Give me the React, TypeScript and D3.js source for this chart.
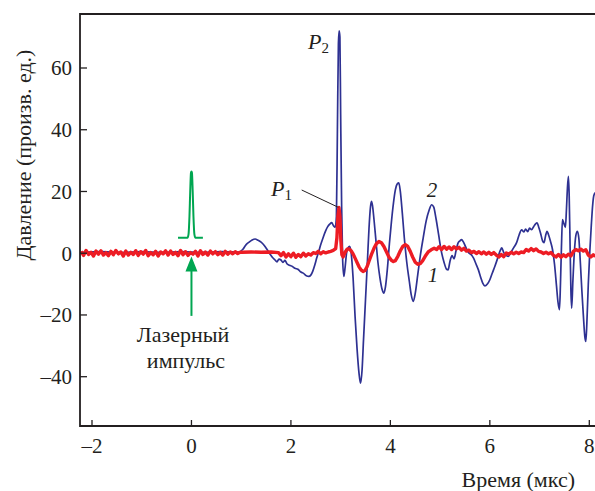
import React from "react";
import * as d3 from "d3";

type Pt = [number, number];

const xTicks = [-2, 0, 2, 4, 6, 8];
const yTicks = [-40, -20, 0, 20, 40, 60];

// curve 2 (blue): time (µs), pressure
const blueSeries: Pt[] = [
  [-2.22, 0.3], [-1.8, 0.5], [-1.4, 0.2], [-1.0, 0.5], [-0.6, 0.3], [-0.2, 0.5], [0.2, 0.3], [0.6, 0.5], [0.95, 0.4],
  [1.03, 1.2], [1.1, 2.8], [1.16, 3.6], [1.22, 4.3], [1.28, 4.6], [1.34, 4.2], [1.4, 3.6], [1.46, 2.6], [1.52, 1.2],
  [1.58, -0.3], [1.63, -1.4], [1.68, -2.2], [1.72, -2.8], [1.76, -1.9], [1.8, -2.2], [1.84, -3.0], [1.88, -2.3],
  [1.92, -3.4], [1.97, -3.9], [2.03, -4.3], [2.08, -4.9], [2.14, -5.2], [2.2, -6.1], [2.26, -6.6], [2.31, -7.3],
  [2.36, -7.5], [2.4, -7.1], [2.44, -5.8], [2.48, -3.8], [2.52, -1.5], [2.56, 0.6], [2.6, 2.8], [2.65, 5.2],
  [2.7, 7.3], [2.74, 8.6], [2.78, 9.4], [2.82, 9.9], [2.86, 8.8], [2.89, 8.4], [2.915, 12], [2.935, 40],
  [2.955, 68], [2.97, 72], [2.985, 70], [3.0, 45], [3.02, 15], [3.04, -2], [3.065, -7.5], [3.09, -4.5],
  [3.12, 0.2], [3.15, 1.8], [3.18, 2.2], [3.21, 0.3], [3.25, -8], [3.29, -20.5], [3.33, -31], [3.37, -39],
  [3.40, -42.1], [3.43, -38], [3.46, -28], [3.5, -15], [3.54, -2], [3.57, 8], [3.6, 15], [3.62, 16.8],
  [3.64, 15.5], [3.67, 11], [3.71, 4], [3.75, -3], [3.79, -8], [3.83, -11.5], [3.87, -12.9], [3.9, -11],
  [3.94, -5], [3.98, 3], [4.02, 10], [4.06, 16], [4.1, 20.5], [4.14, 22.5], [4.17, 22.8], [4.2, 20],
  [4.24, 13], [4.28, 5], [4.33, -3], [4.38, -9], [4.42, -13.5], [4.46, -15.6], [4.5, -13], [4.55, -7],
  [4.6, -1], [4.66, 5], [4.72, 10.5], [4.78, 14], [4.83, 15.7], [4.87, 15], [4.92, 11], [4.97, 6],
  [5.02, 1], [5.08, -3], [5.13, -5.2], [5.16, -5.4], [5.2, -2.5], [5.24, -0.8], [5.28, -1.8], [5.32, 0.8],
  [5.36, 3.3], [5.4, 4.0], [5.43, 4.4], [5.47, 3.6], [5.52, 1.8], [5.57, 0.2], [5.62, -0.4], [5.67, -1.5],
  [5.72, -3.4], [5.77, -5.4], [5.82, -8.0], [5.86, -9.8], [5.9, -10.6], [5.95, -10.0], [6.0, -8.6],
  [6.05, -6.4], [6.1, -4.3], [6.16, -1.5], [6.21, 0.9], [6.24, 1.7], [6.28, 0.2], [6.32, -0.6], [6.37, -1.0],
  [6.42, 0.2], [6.48, 1.8], [6.54, 3.5], [6.59, 6.0], [6.64, 7.6], [6.68, 6.9], [6.72, 7.8], [6.76, 7.0],
  [6.8, 8.1], [6.84, 7.6], [6.88, 8.6], [6.92, 9.5], [6.95, 9.8], [6.98, 8.6], [7.02, 6.5], [7.06, 4.0],
  [7.09, 3.4], [7.12, 5.6], [7.15, 7.1], [7.18, 6.0], [7.22, 3.8], [7.26, 1.2], [7.3, -3.5], [7.34, -10.5],
  [7.37, -15.8], [7.40, -18.3], [7.42, -10], [7.44, 2], [7.46, 10.9], [7.49, 9.6], [7.52, 8.4], [7.54, 14],
  [7.56, 21], [7.58, 24.9], [7.595, 19], [7.61, 6], [7.63, -12], [7.645, -17.8], [7.67, -9], [7.7, 0.5],
  [7.73, 5.8], [7.76, 7.1], [7.79, 4.8], [7.82, -3], [7.85, -12], [7.88, -20], [7.91, -27], [7.93, -28.6],
  [7.95, -23], [7.98, -10], [8.01, 0.5], [8.04, 9], [8.07, 16], [8.09, 18.6], [8.12, 19.6],
];

// curve 1 (red): noisy baseline before the signal, one sample every 0.05 µs
const redBaseStart = -2.22;
const redBaseStep = 0.05;
const redBaseNoise = [
  0.6, -0.7, 0.9, -0.4, 0.3, -0.9, 0.7, -0.3, 0.8, -0.6,
  0.2, -0.8, 0.6, -0.5, 0.9, -0.2, 0.4, -0.9, 0.7, -0.6,
  0.3, -0.4, 0.8, -0.7, 0.5, -0.3, 0.9, -0.8, 0.2, -0.5,
  0.6, -0.9, 0.4, -0.2, 0.8, -0.6, 0.7, -0.4, 0.3, -0.8,
  0.9, -0.5, 0.5, -0.7, 0.2, -0.3, 0.6, -0.9, 0.8, -0.4,
  0.4, -0.6, 0.7, -0.2, 0.5, -0.5, 0.3, -0.6, 0.6, -0.3,
  0.4, -0.2, 0.5, -0.1, 0.3,
];
const redSeries: Pt[] = [
  [1.02, 0.3], [1.2, 0.4], [1.4, 0.3], [1.6, 0.4], [1.75, 0.2], [1.8, -0.8], [1.85, 0.2], [1.9, -1.2],
  [1.95, -0.2], [2.0, -1.1], [2.05, 0.0], [2.1, -1.3], [2.15, -0.4], [2.2, -1.1], [2.25, 0.0], [2.3, -0.9],
  [2.35, -0.2], [2.4, -0.6], [2.45, 0.2], [2.5, -0.1], [2.55, 0.6], [2.6, -0.2], [2.65, 0.5], [2.7, 0.1],
  [2.75, 0.4], [2.8, 0.6], [2.85, 0.9], [2.9, 1.5], [2.925, 5], [2.945, 12], [2.965, 14.8], [2.985, 12],
  [3.005, 4], [3.025, -0.5], [3.05, -1.2], [3.09, 0.3], [3.13, 1.3], [3.17, 1.4], [3.21, 0.8], [3.25, -0.2],
  [3.29, -1.6], [3.33, -3.0], [3.37, -4.4], [3.41, -5.4], [3.45, -5.9], [3.49, -5.6], [3.53, -4.4],
  [3.57, -2.6], [3.62, -0.4], [3.67, 1.6], [3.72, 3.1], [3.77, 3.8], [3.82, 3.4], [3.87, 2.2], [3.92, 0.5],
  [3.97, -1.2], [4.02, -2.3], [4.06, -2.7], [4.1, -2.4], [4.15, -1.0], [4.2, 0.8], [4.25, 2.2], [4.3, 2.8],
  [4.35, 2.2], [4.4, 0.6], [4.45, -1.3], [4.5, -2.9], [4.55, -3.6], [4.6, -3.4], [4.65, -2.4], [4.7, -1.0],
  [4.76, 0.4], [4.82, 1.1], [4.88, 1.6], [4.93, 1.2], [4.98, 2.1],
  [5.03, 1.2], [5.08, 2.2], [5.13, 1.3], [5.18, 2.0], [5.23, 1.2], [5.28, 2.1], [5.33, 1.4], [5.38, 1.9],
  [5.43, 1.0], [5.48, 1.6], [5.53, 0.7], [5.58, 1.0], [5.63, 0.2], [5.68, 0.6], [5.73, -0.1], [5.78, 0.5],
  [5.83, -0.2], [5.88, 0.4], [5.93, -0.3], [5.98, 0.3], [6.03, -0.4], [6.08, 0.2], [6.13, -0.6], [6.18, -1.2],
  [6.23, -0.4], [6.28, -1.1], [6.33, 0.1], [6.38, -0.3], [6.43, 0.3], [6.48, -0.2], [6.53, 0.3], [6.58, -0.1],
  [6.63, 0.4], [6.68, 0.2], [6.73, 1.2], [6.78, 0.7], [6.83, 1.5], [6.88, 0.8], [6.93, 1.4], [6.98, 0.6],
  [7.03, 0.4], [7.08, -0.1], [7.13, 0.3], [7.18, -0.2], [7.23, 0.2], [7.28, -0.7], [7.33, -1.2], [7.38, -0.4],
  [7.43, -1.3], [7.48, -0.5], [7.53, -1.1], [7.58, -0.3], [7.63, -0.9], [7.68, 0.6], [7.73, 1.2], [7.78, 0.8],
  [7.83, 1.3], [7.88, 0.7], [7.93, 1.1], [7.98, -0.6], [8.03, -1.2], [8.08, -0.5], [8.12, -1.0],
];

// laser pulse sketch (green)
const laserPulse: Pt[] = [
  [-0.27, 5], [-0.08, 5], [-0.06, 6], [-0.04, 12], [-0.025, 20], [-0.01, 26], [0, 26.5],
  [0.01, 26], [0.025, 20], [0.04, 12], [0.06, 6], [0.08, 5], [0.23, 5],
];
const arrowTail = -20.3;
const arrowTip = -1.1;

const ink = "#231f20";
const blue = "#2e3192";
const red = "#ed1c24";
const green = "#00a651";
const font = "'Liberation Serif', 'Times New Roman', serif";

export default function App() {
  const width = 595;
  const height = 491;
  const left = 80;
  const top = 14;
  const bottom = 426;

  const x = d3.scaleLinear().domain([-2, 8]).range([92, 589.3]);
  const y = d3.scaleLinear().domain([-40, 60]).range([376.7, 68]);
  const line = d3.line<Pt>().x((d) => x(d[0])).y((d) => y(d[1]));
  const smooth = d3.line<Pt>().x((d) => x(d[0])).y((d) => y(d[1])).curve(d3.curveMonotoneX);

  const redAll: Pt[] = [
    ...redBaseNoise.map((v, i) => [redBaseStart + i * redBaseStep, v] as Pt),
    ...redSeries,
  ];

  const ax = x(0);
  const tipY = y(arrowTip);

  return (
    <svg
      width={width}
      height={height}
      style={{ position: "absolute", left: 0, top: 0, background: "#fff" }}
      fontFamily={font}
    >
      <defs>
        <clipPath id="plot">
          <rect x={left} y={top} width={width - left} height={bottom - top} />
        </clipPath>
      </defs>

      <g clipPath="url(#plot)">
        <path d={smooth(blueSeries) || ""} fill="none" stroke={blue} strokeWidth={1.7} strokeLinejoin="round" />
        <path d={line(redAll) || ""} fill="none" stroke={red} strokeWidth={3.4} strokeLinejoin="round" />
        <path d={smooth(laserPulse) || ""} fill="none" stroke={green} strokeWidth={2} />
      </g>

      {/* laser arrow */}
      <line x1={ax} x2={ax} y1={y(arrowTail)} y2={tipY + 12} stroke={green} strokeWidth={2} />
      <path d={`M${ax},${tipY} L${ax - 6},${tipY + 15} L${ax + 6},${tipY + 15} Z`} fill={green} />

      {/* frame */}
      <path
        d={`M${width},${top} H${left} V${bottom} H${width}`}
        fill="none"
        stroke={ink}
        strokeWidth={1.8}
      />

      {xTicks.map((t) => (
        <g key={"x" + t}>
          <line x1={x(t)} x2={x(t)} y1={bottom} y2={bottom - 6} stroke={ink} strokeWidth={1.3} />
          <text x={x(t)} y={453} textAnchor="middle" fontSize={21} fill={ink}>
            {t < 0 ? "\u2013" + Math.abs(t) : t}
          </text>
        </g>
      ))}
      {yTicks.map((v) => (
        <g key={"y" + v}>
          <line x1={left} x2={left + 7} y1={y(v)} y2={y(v)} stroke={ink} strokeWidth={1.3} />
          <text x={72} y={y(v)} dy="0.35em" textAnchor="end" fontSize={21} fill={ink}>
            {v < 0 ? "\u2013" + Math.abs(v) : v}
          </text>
        </g>
      ))}

      <text x={575} y={487} textAnchor="end" fontSize={22} fill={ink}>
        Время (мкс)
      </text>
      <text
        transform={`translate(31,155) rotate(-90)`}
        textAnchor="middle"
        fontSize={22}
        fill={ink}
      >
        Давление (произв. ед.)
      </text>

      <text x={183} y={342} textAnchor="middle" fontSize={22} fill={ink}>
        Лазерный
      </text>
      <text x={186} y={368} textAnchor="middle" fontSize={22} fill={ink}>
        импульс
      </text>

      <text x={308} y={49} fontSize={22} fontStyle="italic" fill={ink}>
        P<tspan fontSize={15} fontStyle="normal" dy={4}>2</tspan>
      </text>
      <text x={271} y={196} fontSize={22} fontStyle="italic" fill={ink}>
        P<tspan fontSize={15} fontStyle="normal" dy={4}>1</tspan>
      </text>
      <line x1={301.7} y1={190} x2={338.3} y2={207.3} stroke={ink} strokeWidth={1} />

      <text x={432} y={197} textAnchor="middle" fontSize={21} fontStyle="italic" fill={ink}>
        2
      </text>
      <text x={433} y={282} textAnchor="middle" fontSize={21} fontStyle="italic" fill={ink}>
        1
      </text>
    </svg>
  );
}
